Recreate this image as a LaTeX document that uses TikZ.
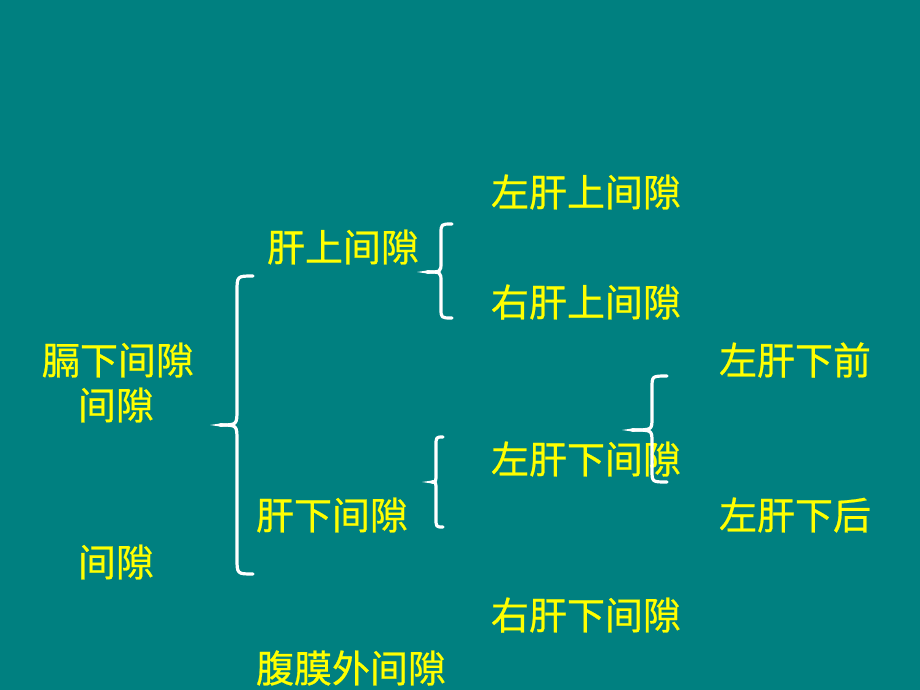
\documentclass[tikz,border=0pt]{standalone}
\usepackage{fontspec}
\newfontfamily\cjk[FakeBold=0.6]{Noto Sans CJK SC}
\definecolor{bgteal}{HTML}{008080}
\definecolor{txtyellow}{HTML}{FFFF00}
\tikzset{
  lbl/.style={text=txtyellow, font=\cjk\fontsize{38}{42}\selectfont, inner sep=0pt, anchor=center},
  bracestroke/.style={draw=white, line width=3.2pt, line cap=round, line join=round}
}
% #1 right x, #2 vertical x, #3 top y, #4 tip x, #5 tip y, #6 bottom y, #7 curl radius
\newcommand\mybrace[7]{%
  \draw[bracestroke] (#1,#3) .. controls (#2,#3) .. (#2,#3+#7) -- (#2,#5-#7)
     .. controls (#2,#5) .. (#4+10,#5);
  \draw[bracestroke] (#1,#6) .. controls (#2,#6) .. (#2,#6-#7) -- (#2,#5+#7)
     .. controls (#2,#5) .. (#4+10,#5);
  \fill[white] (#4,#5) -- (#4+12,#5-1.8) -- (#4+14,#5) -- (#4+12,#5+1.8) -- cycle;
}
\begin{document}
\begin{tikzpicture}[x=1pt,y=-1pt]
\fill[bgteal] (0,0) rectangle (920,690);
\useasboundingbox (0,0) rectangle (920,690);

\node[lbl] (lsup) at (586,192) {左肝上间隙};
\node[lbl] (sup) at (343,247) {肝上间隙};
\node[lbl] (rsup) at (586,302) {右肝上间隙};
\node[lbl] (sub) at (118,360) {膈下间隙};
\node[lbl] (gap1) at (116,405) {间隙};
\node[lbl] (lant) at (795,360) {左肝下前};
\node[lbl] (linf) at (586,459) {左肝下间隙};
\node[lbl] (inf) at (332,515) {肝下间隙};
\node[lbl] (lpost) at (795,515) {左肝下后};
\node[lbl] (gap2) at (116,562) {间隙};
\node[lbl] (rinf) at (586,615) {右肝下间隙};
\node[lbl] (extra) at (351,668) {腹膜外间隙};

\mybrace{253}{237}{276}{210}{425}{574}{16}
\mybrace{452}{441}{224}{417}{272}{318}{10}
\mybrace{667}{652}{376}{622}{430}{482}{12}
\mybrace{443}{436}{437}{422}{482}{527}{9}
\end{tikzpicture}
\end{document}
